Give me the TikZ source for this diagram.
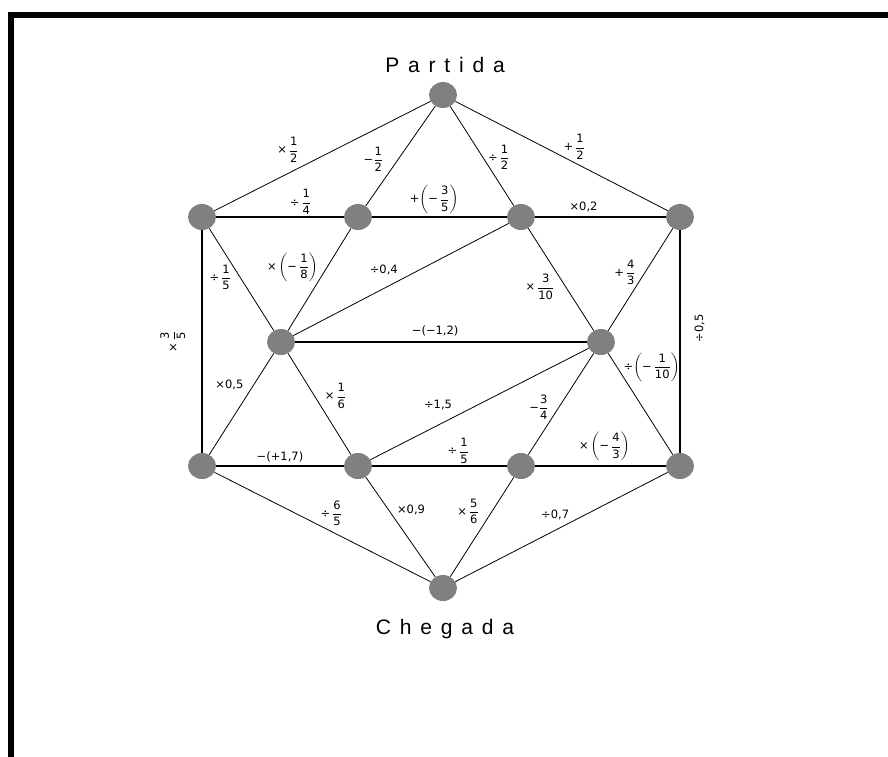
\documentclass[tikz,border=0pt]{standalone}
\usepackage{amsmath}
\usepackage{fontspec}
\setmainfont{DejaVu Sans}
\newfontfamily\titlefont{Liberation Sans}[LetterSpace=42]
\usetikzlibrary{shapes.geometric}
\definecolor{dotgray}{RGB}{128,128,128}
\newcommand{\fr}[2]{$\dfrac{\text{#1}}{\text{#2}}$}
\newcommand{\nfr}[2]{$\left(\text{−}\,\dfrac{\text{#1}}{\text{#2}}\right)$}

\begin{document}
\begin{tikzpicture}[x=1pt, y=-1pt,
  dot/.style={ellipse, fill=dotgray, minimum width=28pt, minimum height=26pt, inner sep=0pt},
  ln/.style={line width=0.8pt},
  hln/.style={line width=1.4pt},
  lbl/.style={font=\fontsize{11.5}{13}\selectfont, inner sep=1pt},
  ttl/.style={font=\titlefont\fontsize{21}{24}\selectfont, anchor=base}
]
  \useasboundingbox (0,0) rectangle (888,756);
  \draw[line width=6pt] (11,770) -- (11,15) -- (900,15);

  \node[ttl] (ptitle) at (445,72) {Partida};
  \node[ttl] (ctitle) at (445,634) {Chegada};

  \node[dot] (partida) at (443,95) {};
  \node[dot] (u1) at (202,217) {};
  \node[dot] (u2) at (358,217) {};
  \node[dot] (u3) at (521,217) {};
  \node[dot] (u4) at (680,217) {};
  \node[dot] (m1) at (281,342) {};
  \node[dot] (m2) at (601,342) {};
  \node[dot] (l1) at (202,466) {};
  \node[dot] (l2) at (358,466) {};
  \node[dot] (l3) at (521,466) {};
  \node[dot] (l4) at (680,466) {};
  \node[dot] (chegada) at (443,588) {};

  % from the start
  \draw[ln] (partida) -- node[lbl, pos=.66, above=10pt] {×\,\fr12} (u1);
  \draw[ln] (partida) -- node[lbl, pos=.53, left=14pt] {−\fr12} (u2);
  \draw[ln] (partida) -- node[lbl, pos=.51, right=4pt] {÷\,\fr12} (u3);
  \draw[ln] (partida) -- node[lbl, pos=.56, above=2pt] {+\,\fr12} (u4);

  % upper row
  \draw[hln] (u1) -- node[lbl, pos=.66, above=1pt] {÷\,\fr14} (u2);
  \draw[hln] (u2) -- node[lbl, pos=.46, above=1pt] {+\nfr35} (u3);
  \draw[hln] (u3) -- node[lbl, pos=.37, above=3pt] {×0,2} (u4);
  \draw[hln] (u1) -- node[lbl, pos=.5, left=15pt] {\rotatebox{90}{×\,\fr35}} (l1);
  \draw[hln] (u4) -- node[lbl, pos=.44, right=13pt] {\rotatebox{90}{÷0,5}} (l4);

  % middle
  \draw[ln] (u1) -- node[lbl, pos=.48, left=8pt] {÷\,\fr15} (m1);
  \draw[ln] (u2) -- node[lbl, pos=.38, left=8pt] {×\,\nfr18} (m1);
  \draw[ln] (m1) -- node[lbl, pos=.42, above=12pt] {÷0,4} (u3);
  \draw[ln] (u3) -- node[lbl, pos=.57, left=10pt] {×\,\fr3{10}} (m2);
  \draw[ln] (u4) -- node[lbl, pos=.43, left=8pt] {+\,\fr43} (m2);
  \draw[hln] (m1) -- node[lbl, pos=.48, above=4pt] {−(−1,2)} (m2);
  \draw[ln] (m1) -- node[lbl, pos=.31, left=9pt] {×0,5} (l1);
  \draw[ln] (m1) -- node[lbl, pos=.42, right=9pt] {×\,\fr16} (l2);
  \draw[ln] (l2) -- node[lbl, pos=.31, above=14pt] {÷1,5} (m2);
  \draw[ln] (m2) -- node[lbl, pos=.53, left=9pt] {−\fr34} (l3);
  \draw[ln] (m2) -- node[lbl, pos=.14, right=5pt] {÷\nfr1{10}} (l4);

  % lower row
  \draw[hln] (l1) -- node[lbl, pos=.5, above=2pt] {−(+1,7)} (l2);
  \draw[hln] (l2) -- node[lbl, pos=.64, above=1pt] {÷\,\fr15} (l3);
  \draw[hln] (l3) -- node[lbl, pos=.53, above=3pt] {×\,\nfr43} (l4);

  % to the finish
  \draw[ln] (l1) -- node[lbl, pos=.54, above=4pt] {÷\,\fr65} (chegada);
  \draw[ln] (l2) -- node[lbl, pos=.33, right=7pt] {×0,9} (chegada);
  \draw[ln] (l3) -- node[lbl, pos=.34, left=12pt] {×\,\fr56} (chegada);
  \draw[ln] (chegada) -- node[lbl, pos=.47, above=9pt] {÷0,7} (l4);
\end{tikzpicture}
\end{document}
